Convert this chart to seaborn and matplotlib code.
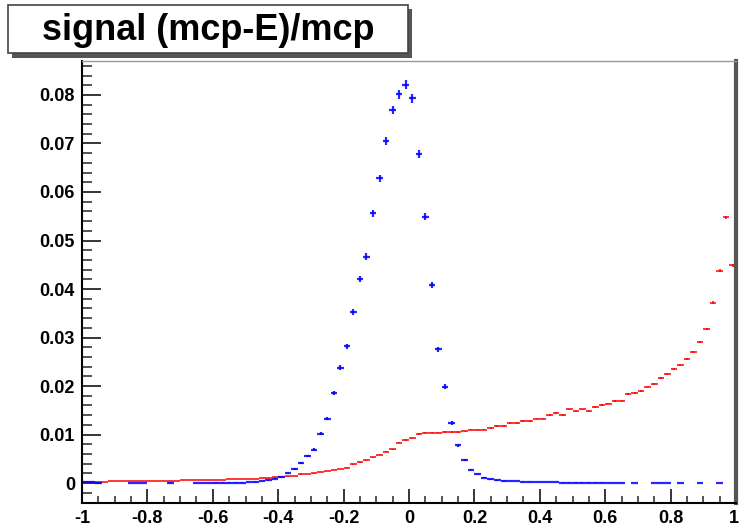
import numpy as np
import matplotlib
matplotlib.use("Agg")
import matplotlib.pyplot as plt
import seaborn as sns
from matplotlib.patches import Rectangle
from matplotlib.ticker import MultipleLocator, FuncFormatter

# ---- data -------------------------------------------------------------
title = "signal (mcp-E)/mcp"
x_low, x_high, n_bins = -1.0, 1.0, 100
nan = np.nan

blue_vals = [
    0.0002, 0.0002, 0.0001, nan, nan, nan, nan, 0.00005, 0.00005, 0.00005,
    nan, nan, nan, 0.0001, nan, nan, nan, 0.00005, 0.00005, 0.00005,
    0.0001, 0.0001, 0.0001, 0.0001, 0.0001, 0.0002, 0.0003, 0.0004, 0.0006, 0.0009,
    0.0012, 0.0020, 0.0029, 0.0041, 0.0056, 0.0069, 0.0102, 0.0133, 0.0186, 0.0238,
    0.0282, 0.0353, 0.0420, 0.0467, 0.0556, 0.0628, 0.0705, 0.0769, 0.0801, 0.0821,
    0.0793, 0.0678, 0.0549, 0.0408, 0.0276, 0.0199, 0.0124, 0.0078, 0.0047, 0.0028,
    0.0018, 0.0011, 0.0008, 0.0006, 0.0005, 0.0004, 0.0004, 0.0003, 0.0003, 0.0002,
    0.0002, 0.0002, 0.0002, 0.0001, 0.0001, 0.0001, 0.0001, 0.0001, 0.0001, 0.0001,
    0.00005, 0.00005, 0.00005, nan, 0.00005, nan, nan, 0.00005, 0.00005, 0.00005,
    nan, 0.00005, nan, nan, 0.00005, nan, nan, 0.00005, nan, nan,
]

red_vals = [
    0.0003, 0.0003, 0.0003, 0.0003, 0.0004, 0.0004, 0.0004, 0.0004, 0.0004, 0.0004,
    0.0005, 0.0005, 0.0005, 0.0005, 0.0005, 0.0006, 0.0006, 0.0006, 0.0006, 0.0007,
    0.0007, 0.0007, 0.0008, 0.0008, 0.0008, 0.0009, 0.0009, 0.0010, 0.0011, 0.0012,
    0.0013, 0.0014, 0.0015, 0.0018, 0.0019, 0.0020, 0.0023, 0.0025, 0.0027, 0.0029,
    0.0032, 0.0039, 0.0043, 0.0047, 0.0053, 0.0058, 0.0065, 0.0070, 0.0083, 0.0089,
    0.0092, 0.0101, 0.0104, 0.0104, 0.0104, 0.0105, 0.0105, 0.0105, 0.0107, 0.0110,
    0.0110, 0.0110, 0.0113, 0.0118, 0.0118, 0.0124, 0.0124, 0.0128, 0.0128, 0.0133,
    0.0133, 0.0140, 0.0144, 0.0140, 0.0152, 0.0148, 0.0152, 0.0148, 0.0157, 0.0161,
    0.0164, 0.0169, 0.0170, 0.0184, 0.0185, 0.0190, 0.0199, 0.0204, 0.0216, 0.0225,
    0.0235, 0.0243, 0.0256, 0.0270, 0.0291, 0.0318, 0.0372, 0.0438, 0.0548, 0.0449,
]

# per-series statistical scale for the Poisson-like error bars
blue_err_scale = 1.0e-5
red_err_scale = 1.8e-6

assert len(blue_vals) == n_bins and len(red_vals) == n_bins

# ---- style ------------------------------------------------------------
sns.set_theme(style="white")
plt.rcParams["font.family"] = ["Liberation Sans", "DejaVu Sans"]
plt.rcParams["axes.unicode_minus"] = False

edges = np.linspace(x_low, x_high, n_bins + 1)
centers = 0.5 * (edges[:-1] + edges[1:])
half_w = 0.5 * (edges[1] - edges[0])

blue = np.array(blue_vals, dtype=float)
red = np.array(red_vals, dtype=float)

fig = plt.figure(figsize=(7.39, 5.28), dpi=100)
fig.patch.set_facecolor("white")
W, H = 739, 528
ax = fig.add_axes([82 / W, 1 - 503 / H, (736 - 82) / W, (503 - 61) / H])

for vals, col, k, lw in [(red, "#ff0000", red_err_scale, 1.3),
                         (blue, "#0000ff", blue_err_scale, 1.6)]:
    m = ~np.isnan(vals)
    ax.errorbar(centers[m], vals[m], xerr=half_w, yerr=np.sqrt(np.abs(vals[m]) * k),
                fmt="none", ecolor=col, elinewidth=lw, capsize=0, alpha=0.85)

ax.set_xlim(x_low, x_high)
ax.set_ylim(-0.0041, 0.0870)

ax.xaxis.set_major_locator(MultipleLocator(0.2))
ax.xaxis.set_minor_locator(MultipleLocator(0.05))
ax.yaxis.set_major_locator(MultipleLocator(0.01))
ax.yaxis.set_minor_locator(MultipleLocator(0.002))

def yfmt(v, _):
    if abs(v) < 1e-9:
        return "0"
    return f"{v:.2f}"

def xfmt(v, _):
    if abs(v) < 1e-9:
        return "0"
    if abs(v - x_high) < 1e-9:
        return ""  # drawn separately so it stays inside the canvas
    return f"{v:g}"

ax.xaxis.set_major_formatter(FuncFormatter(xfmt))
ax.yaxis.set_major_formatter(FuncFormatter(yfmt))

ax.tick_params(axis="y", which="major", direction="in", length=13.7, width=1.1,
               left=True, right=False, labelsize=13, pad=5, colors="black")
ax.tick_params(axis="y", which="minor", direction="in", length=7, width=1.1,
               left=True, right=False)
ax.tick_params(axis="x", which="major", direction="in", length=10, width=1.1,
               bottom=True, top=False, labelsize=13, pad=5, colors="black")
ax.tick_params(axis="x", which="minor", direction="in", length=5, width=1.1,
               bottom=True, top=False)
for lab in ax.get_xticklabels() + ax.get_yticklabels():
    lab.set_fontweight("bold")

ax.annotate(f"{x_high:g}", xy=(x_high, 0), xycoords=("data", "axes fraction"),
            xytext=(2, -5), textcoords="offset points", ha="right", va="top",
            fontsize=13, fontweight="bold", color="black", annotation_clip=False)

ax.spines["left"].set_color("black")
ax.spines["left"].set_linewidth(1.5)
ax.spines["bottom"].set_color("black")
ax.spines["bottom"].set_linewidth(1.5)
ax.spines["top"].set_color("#999999")
ax.spines["top"].set_linewidth(1.0)
ax.spines["right"].set_color("#555555")
ax.spines["right"].set_linewidth(3.0)

# ---- title box --------------------------------------------------------
def px_rect(x0, y0, x1, y1, **kw):
    return Rectangle((x0 / W, 1 - y1 / H), (x1 - x0) / W, (y1 - y0) / H,
                     transform=fig.transFigure, **kw)

fig.patches.append(px_rect(12, 9, 412, 58, facecolor="#555555", edgecolor="none"))
fig.patches.append(px_rect(8, 5, 408, 53, facecolor="white", edgecolor="#444444", linewidth=1.2))
fig.text(208 / W, 1 - 30 / H, title, ha="center", va="center",
         fontsize=26, fontweight="bold", color="black")

fig.savefig("out.png", dpi=100)
